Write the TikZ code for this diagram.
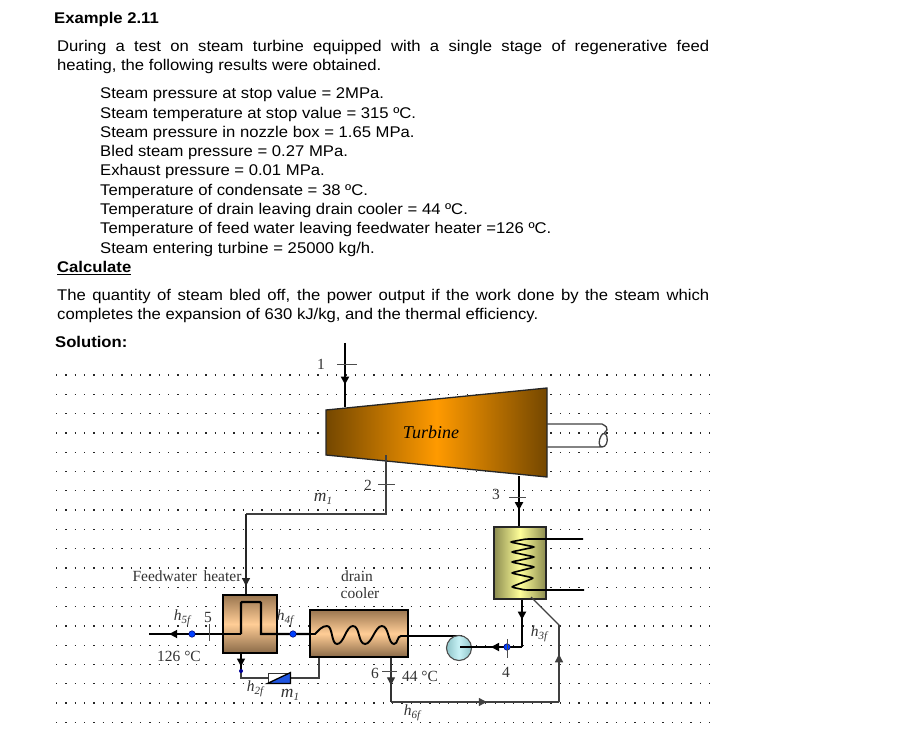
\documentclass[tikz,border=0pt]{standalone}
\usepackage{fontspec}
\setmainfont{Liberation Serif}
\newfontfamily\arialf[FakeStretch=1.075]{Liberation Sans}
\usetikzlibrary{arrows.meta,decorations.markings}
\newcommand\hsub[2]{{\itshape #1\raisebox{-2.5pt}{\fontsize{11}{11}\selectfont #2}}}
\tikzset{
  x=1pt,y=-1pt,
  bodytext/.style={anchor=base west,inner sep=0pt,yshift=-.7pt,font=\arialf\fontsize{15.5}{17}\selectfont},
  headtext/.style={anchor=base west,inner sep=0pt,yshift=-.7pt,font=\arialf\bfseries\fontsize{15.5}{17}\selectfont},
  lab/.style={inner sep=0pt,text=black!80,font=\fontsize{15.5}{17}\selectfont},
  mlab/.style={inner sep=0pt,text=black!80,font=\itshape\fontsize{17.5}{17}\selectfont},
  dotrow/.style={line width=1.3pt,black!85,dash pattern=on 1.3pt off 8.03pt},
  thickline/.style={line width=2.2pt,black},
  thinline/.style={line width=1.3pt,black!75},
  tickline/.style={line width=1pt,black!70},
  tipat/.style={postaction={decorate},decoration={markings,mark=at position #1 with {\arrow{Triangle[length=8pt,width=8pt]}}}},
  fwdot/.style={circle,fill=blue!75!cyan,draw=blue!40!black,line width=.5pt,minimum size=6.5pt,inner sep=0pt},
  brownbox/.style={draw=black,line width=2pt,inner sep=0pt,top color=brown1,bottom color=brown2,middle color=brown3},
}
\definecolor{brown1}{HTML}{9A7650}
\definecolor{brown2}{HTML}{8A6A48}
\definecolor{brown3}{HTML}{FFCD96}
\definecolor{turbd}{HTML}{744700}
\definecolor{turbl}{HTML}{FF9A00}
\definecolor{oliv}{HTML}{8C8C50}
\definecolor{yell}{HTML}{FFFF99}
\definecolor{pumpl}{HTML}{C8F2F6}
\definecolor{pumpd}{HTML}{8FC4C8}
\definecolor{valveb}{HTML}{1F55E0}
\begin{document}
\begin{tikzpicture}
\useasboundingbox (0,0) rectangle (897,735);
% text block
\node[headtext] (t0) at (54,23) {Example 2.11};
\node[bodytext] (t1) at (57,51) {\makebox[652pt][s]{During a test on steam turbine equipped with a single stage of regenerative feed}};
\node[bodytext] (t2) at (57,70) {heating, the following results were obtained.};
\node[bodytext] (l1) at (100,98) {Steam pressure at stop value = 2MPa.};
\node[bodytext] (l2) at (100,118) {Steam temperature at stop value = 315 ºC.};
\node[bodytext] (l3) at (100,137) {Steam pressure in nozzle box = 1.65 MPa.};
\node[bodytext] (l4) at (100,156) {Bled steam pressure = 0.27 MPa.};
\node[bodytext] (l5) at (100,175) {Exhaust pressure = 0.01 MPa.};
\node[bodytext] (l6) at (100,195) {Temperature of condensate = 38 ºC.};
\node[bodytext] (l7) at (100,214) {Temperature of drain leaving drain cooler = 44 ºC.};
\node[bodytext] (l8) at (100,233) {Temperature of feed water leaving feedwater heater =126 ºC.};
\node[bodytext] (l9) at (100,253) {Steam entering turbine = 25000 kg/h.};
\node[headtext] (t3) at (57,272) {\underline{Calculate}};
\node[bodytext] (t4) at (57,300) {\makebox[652pt][s]{The quantity of steam bled off, the power output if the work done by the steam which}};
\node[bodytext] (t5) at (57,319) {completes the expansion of 630 kJ/kg, and the thermal efficiency.};
\node[headtext] (t6) at (55,347) {Solution:};
% dotted rows
\foreach \k in {0,...,18} \draw[dotrow] (56,{375+19.3*\k}) -- (710,{375+19.3*\k});
% turbine
\coordinate (tl) at (326,410); \coordinate (tr) at (547,388);
\coordinate (br) at (547,477); \coordinate (bl) at (326,455);
\shade[left color=turbd,right color=turbd,middle color=turbl] (tl)--(tr)--(br)--(bl)--cycle;
\draw[black!85,line width=1.3pt,line join=miter] (tl)--(tr)--(br)--(bl)--cycle;
\node[inner sep=0pt,font=\itshape\fontsize{18}{20}\selectfont] (turbine) at (431,432) {Turbine};
% shaft
\coordinate (sh1) at (547,424); \coordinate (sh2) at (602,424);
\coordinate (sh3) at (547,447); \coordinate (sh4) at (602,447);
\draw[thinline] (sh1)--(sh2) .. controls (606,426) and (608,428) .. (607,430) .. controls (606,432) and (604,432) .. (604,434);
\draw[thinline] (sh3)--(sh4) .. controls (606,447) and (608,442) .. (607,437) .. controls (606,433) and (603,432) .. (601,436) .. controls (598,441) and (599,447) .. (sh4);
% steam inlet
\coordinate (in0) at (345,343); \coordinate (in1) at (345,407);
\draw[thickline,tipat=.65] (in0)--(in1);
\draw[tickline] (337,364)--(357,364);
\node[lab] (n1) at (321,364) {1};
% condenser
\node[draw=black!85,line width=1.6pt,inner sep=0pt,minimum width=52pt,minimum height=72pt,left color=oliv,right color=oliv,middle color=yell] (cond) at (520,563) {};
\draw[line width=1.6pt,black,rounded corners=2.5pt] (583,539) -- (526,539) -- (510,542) -- (535,547) -- (511,552) -- (535,557) -- (511,562) -- (535,567) -- (511,573) -- (534,578) -- (511,587) -- (525,590) -- (584,590);
% exhaust
\coordinate (ex0) at (519,476);
\draw[thickline,tipat=.68] (ex0)--(cond.north -| ex0);
\draw[tickline] (509,497)--(526,497);
\node[lab] (n3) at (496,494) {3};
% bleed
\coordinate (bl0) at (386,455); \coordinate (bl1) at (386,514); \coordinate (bl2) at (246,514);
\node[brownbox,minimum width=54pt,minimum height=58pt] (heater) at (250,624) {};
\draw[thinline] (bl0)--(bl1)--(bl2);
\draw[thinline,black!85,tipat=.9] (bl2)--(bl2 |- heater.north);
\draw[tickline] (378,484)--(395,484);
\node[lab] (n2) at (368,485) {2};
\node[mlab] (m1a) at (323,499) {m\raisebox{-2.5pt}{\fontsize{11}{11}\selectfont 1}};
\node[lab] (fwh) at (187,576) {Feedwater\, heater};
\node[lab] (dr) at (357,576) {drain};
\node[lab] (co) at (360,593) {cooler};
% drain cooler
\node[brownbox,minimum width=98pt,minimum height=47pt] (cooler) at (359,633.5) {};
\draw[thickline] (241,634) -- (241,603) -- (242,602) -- (260,602) -- (261,603) -- (261,634) -- (cooler.west |- 0,634);
\draw[thickline,tipat=.78] (241,634) -- (149,634);
\coordinate (w0) at (315,634);
\draw[line width=1.9pt,black] (cooler.west |- w0) -- (w0) .. controls (319,630) and (322,626) .. (327,626) .. controls (333,626) and (331,644) .. (337,644) .. controls (344,644) and (346,626) .. (353,626) .. controls (360,626) and (358,644) .. (365,644) .. controls (372,644) and (375,626) .. (382,626) .. controls (389,626) and (388,644) .. (394,644) .. controls (398,644) and (397,636) .. (401,636) -- (462,636);
\node[fwdot] (d5) at (192,634) {};
\node[fwdot] (d4f) at (293,634) {};
\draw[tickline] (209,624)--(209,641);
\node[lab] (n5) at (208,617) {5};
\node[lab] (h5) at (182,618) {\hsub{h}{5f}};
\node[lab] (h4) at (285,618) {\hsub{h}{4f}};
\node[lab] (t126) at (179,656) {126 °C};
% drain line and valve
\coordinate (dv0) at (241,653); \coordinate (dv1) at (241,678); \coordinate (dv2) at (319,678);
\draw[thinline] (241,669)--(dv1)--(dv2)--(dv2 |- cooler.south);
\draw[line width=1.5pt,black,tipat=.75] (dv0)--(241,671);
\node[circle,fill=blue!60!black,minimum size=4pt,inner sep=0pt] (dd) at (241,671) {};
\node[draw=black!80,fill=white,line width=.9pt,minimum width=22pt,minimum height=10pt,inner sep=0pt] (valve) at (279,678) {};
\fill[valveb] (valve.south west)--(valve.north east)--(valve.south east)--cycle;
\draw[black,line width=1.3pt] (valve.south west)--(valve.north east)--(valve.south east)--cycle;
\node[lab] (h2) at (255,689) {\hsub{h}{2f}};
\node[mlab] (m1b) at (290,695) {m\raisebox{-2.5pt}{\fontsize{11}{11}\selectfont 1}};
% pump and condensate
\node[circle,draw=black!70,line width=1.1pt,minimum size=25pt,inner sep=0pt,left color=pumpd,right color=pumpd,middle color=pumpl] (pump) at (459,648) {};
\coordinate (c1) at (522,647);
\draw[thickline,tipat=.42] (cond.south -| c1)--(c1);
\draw[line width=1.7pt,black,tipat=.5] (c1)--(460,647);
\node[fwdot] (d4) at (507,647) {};
\draw[tickline] (507,639)--(507,658);
\node[lab] (n4) at (506,672) {4};
\node[lab] (h3) at (539,634) {\hsub{h}{3f}};
% return
\coordinate (r0) at (531,597); \coordinate (r1) at (559,625); \coordinate (r2) at (559,702); \coordinate (r3) at (391,702);
\draw[thinline] (r0)--(r1)--(r2);
\draw[thinline,tipat=.62] (r2)--(r1);
\draw[thinline,tipat=.57] (r3)--(r2);
\draw[thinline,black!80,tipat=.62] (cooler.south -| r3)--(r3);
\draw[tickline] (382,671)--(397,671);
\node[lab] (n6) at (375,673) {6};
\node[lab] (t44) at (420,676) {44 °C};
\node[lab] (h6) at (412,713) {\hsub{h}{6f}};
\end{tikzpicture}
\end{document}
